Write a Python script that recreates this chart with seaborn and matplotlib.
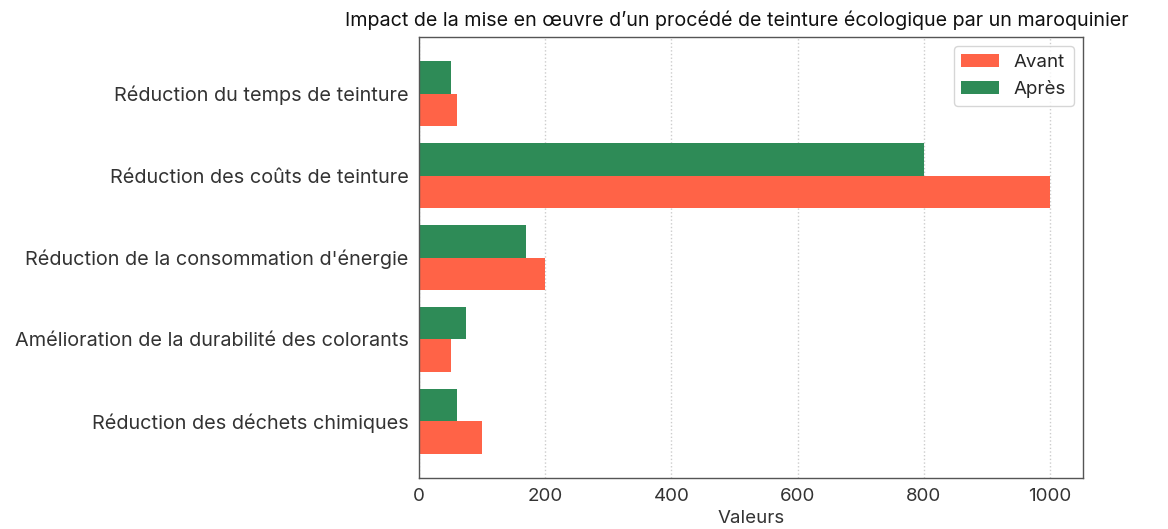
import pandas as pd
import matplotlib
matplotlib.use('Agg')
import matplotlib.pyplot as plt
import seaborn as sns

# chart values
categories = ['Réduction du temps de teinture',
              'Réduction des coûts de teinture',
              "Réduction de la consommation d'énergie",
              'Amélioration de la durabilité des colorants',
              'Réduction des déchets chimiques']
avant = [60, 1000, 200, 50, 100]
apres = [50, 800, 170, 75, 60]

df = pd.DataFrame({
    'Catégorie': categories * 2,
    'Valeur': apres + avant,
    'Période': ['Après'] * len(categories) + ['Avant'] * len(categories),
})

sns.set_style('white')
plt.rcParams['font.family'] = ['Inter', 'DejaVu Sans']

fig = plt.figure(figsize=(11.68, 5.29), dpi=100)
ax = fig.add_axes([419 / 1168, 1 - 478 / 529, 664 / 1168, 441 / 529])

sns.barplot(data=df, y='Catégorie', x='Valeur', hue='Période',
            hue_order=['Après', 'Avant'], orient='h',
            palette={'Avant': '#FF6347', 'Après': '#2E8B57'},
            width=0.8, linewidth=0, saturation=1, ax=ax)

ax.set_ylim(4.69, -0.69)
ax.set_xlim(0, 1052)
ax.set_xticks([0, 200, 400, 600, 800, 1000])
ax.set_ylabel('')
ax.set_xlabel('Valeurs', fontsize=13.5, color='#333333', labelpad=3)
fig.text(345 / 1168, 1 - 20 / 529,
         "Impact de la mise en œuvre d’un procédé de teinture écologique par un maroquinier",
         fontsize=14.2, color='#111111', ha='left', va='center')
ax.tick_params(axis='x', labelsize=13.5, colors='#333333', length=4)
ax.tick_params(axis='y', labelsize=14.3, colors='#333333', length=4)
ax.xaxis.grid(True, linestyle=':', color='#cccccc', linewidth=1)
ax.set_axisbelow(True)
for sp in ax.spines.values():
    sp.set_color('#555555')
    sp.set_linewidth(1)

handles, labels = ax.get_legend_handles_labels()
order = [labels.index('Avant'), labels.index('Après')]
ax.legend([handles[i] for i in order], [labels[i] for i in order],
          loc='upper right', fontsize=13.5, frameon=True)

fig.savefig('out.png', dpi=100)
